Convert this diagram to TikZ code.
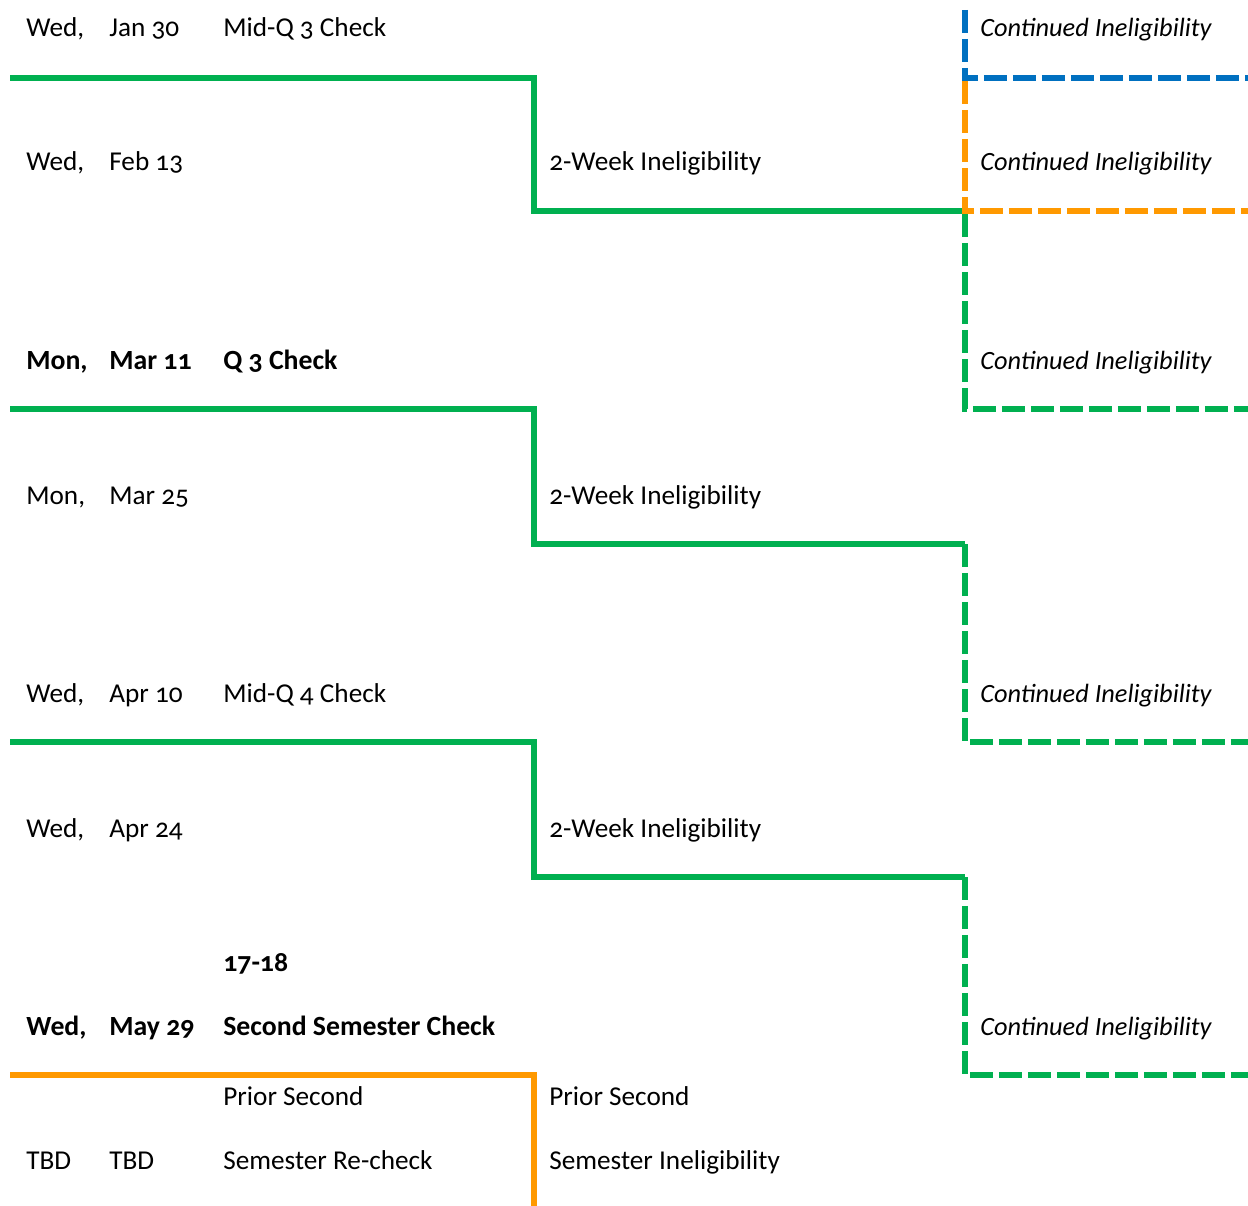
\documentclass[tikz,border=0pt]{standalone}
\usepackage{fontspec}
\setmainfont{Carlito}[Numbers=OldStyle]
\usepackage{tikz}
\usetikzlibrary{positioning,calc}

\definecolor{lgreen}{RGB}{0,176,80}
\definecolor{lorange}{RGB}{255,153,0}
\definecolor{lblue}{RGB}{0,112,192}

\tikzset{
  txt/.style={anchor=base west, inner sep=0pt, font=\fontsize{15.5}{18}\selectfont},
  bold/.style={txt, font=\fontsize{15.8}{18}\selectfont\bfseries},
  cont/.style={txt, font=\fontsize{15}{18}\selectfont\itshape},
  solidline/.style={line width=3.4pt, line cap=butt, line join=miter},
  dashline/.style={solidline, dash pattern=on 0.46cm off 0.12cm},
}

\begin{document}
\begin{tikzpicture}[x=0.02cm, y=-0.02cm]
  % rahmen
  \useasboundingbox (0,0) rectangle (1248,1206);
  \def\xa{26}  \def\xb{109} \def\xc{223} \def\xd{549} \def\xe{980}
  \def\xs{534} \def\xv{965} \def\xr{1248}

  % linien
  \draw[solidline, lgreen] (10,78) -- (\xs,78) -- (\xs,211) -- (\xv,211);
  \draw[dashline, lblue] (\xv,10) -- (\xv,78) -- (\xr,78);
  \draw[dashline, lorange] (\xv,81) -- (\xv,211) -- (\xr,211);
  \draw[dashline, lgreen] (\xv,214) -- (\xv,409) -- (\xr,409);
  \draw[solidline, lgreen] (10,409) -- (\xs,409) -- (\xs,544) -- (\xv,544);
  \draw[dashline, lgreen] (\xv,544) -- (\xv,742) -- (\xr,742);
  \draw[solidline, lgreen] (10,742) -- (\xs,742) -- (\xs,877) -- (\xv,877);
  \draw[dashline, lgreen] (\xv,877) -- (\xv,1075) -- (\xr,1075);
  \draw[solidline, lorange] (10,1075) -- (\xs,1075) -- (\xs,1206);

  % zeilen
  \node[txt] (d1) at (\xa,37) {Wed,};
  \node[txt] (t1) at (\xb,37) {Jan 30};
  \node[txt] (e1) at (\xc,37) {Mid-Q 3 Check};
  \node[cont] (c1) at (\xe,37) {Continued Ineligibility};

  \node[txt] (d2) at (\xa,171) {Wed,};
  \node[txt] (t2) at (\xb,171) {Feb 13};
  \node[txt] (w2) at (\xd,171) {2-Week Ineligibility};
  \node[cont] (c2) at (\xe,171) {Continued Ineligibility};

  \node[bold] (d3) at (\xa,370) {Mon,};
  \node[bold] (t3) at (\xb,370) {Mar 11};
  \node[bold] (e3) at (\xc,370) {Q 3 Check};
  \node[cont] (c3) at (\xe,370) {Continued Ineligibility};

  \node[txt] (d4) at (\xa,504) {Mon,};
  \node[txt] (t4) at (\xb,504) {Mar 25};
  \node[txt] (w4) at (\xd,504) {2-Week Ineligibility};

  \node[txt] (d5) at (\xa,702) {Wed,};
  \node[txt] (t5) at (\xb,702) {Apr 10};
  \node[txt] (e5) at (\xc,702) {Mid-Q 4 Check};
  \node[cont] (c5) at (\xe,702) {Continued Ineligibility};

  \node[txt] (d6) at (\xa,837) {Wed,};
  \node[txt] (t6) at (\xb,837) {Apr 24};
  \node[txt] (w6) at (\xd,837) {2-Week Ineligibility};

  \node[bold] (yr) at (\xc,971) {17-18};

  \node[bold] (d7) at (\xa,1035) {Wed,};
  \node[bold] (t7) at (\xb,1035) {May 29};
  \node[bold] (e7) at (\xc,1035) {Second Semester Check};
  \node[cont] (c7) at (\xe,1035) {Continued Ineligibility};

  \node[txt] (p1) at (\xc,1105) {Prior Second};
  \node[txt] (p2) at (\xd,1105) {Prior Second};
  \node[txt] (d8) at (\xa,1169) {TBD};
  \node[txt] (t8) at (\xb,1169) {TBD};
  \node[txt] (e8) at (\xc,1169) {Semester Re-check};
  \node[txt] (s8) at (\xd,1169) {Semester Ineligibility};
\end{tikzpicture}
\end{document}
